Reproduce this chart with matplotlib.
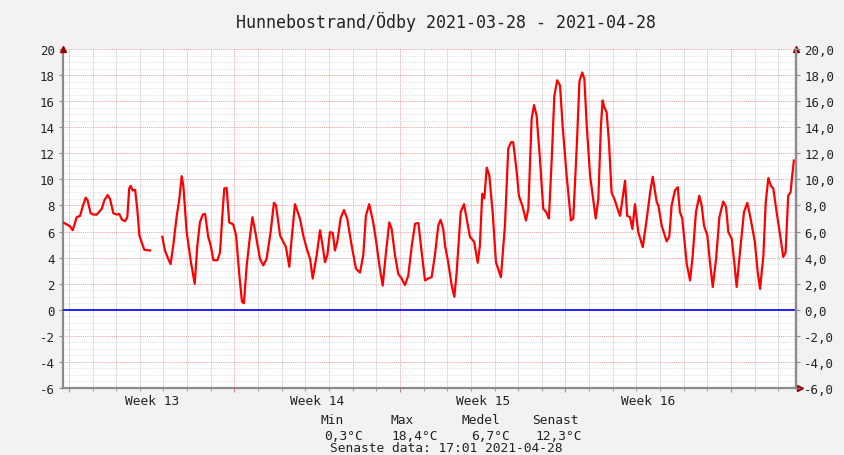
import datetime as dt
import numpy as np
import matplotlib
matplotlib.use("Agg")
import matplotlib.pyplot as plt
import matplotlib.dates as mdates
from matplotlib.ticker import FixedLocator, MultipleLocator, FuncFormatter

# ---------------- data ----------------
title = "Hunnebostrand/Ödby 2021-03-28 - 2021-04-28"
start = dt.datetime(2021, 3, 28, 18, 0)
end = dt.datetime(2021, 4, 28, 18, 0)

# time offsets (days from start) and temperatures (°C)
t_days = [
    0.01, 0.30, 0.41, 0.58, 0.72, 0.83, 0.96, 1.04, 1.17, 1.28, 1.43, 1.64, 1.75, 1.89, 1.99,
    2.13, 2.27, 2.38, 2.50, 2.62, 2.72, 2.80, 2.86, 2.95, 3.05, 3.14, 3.23, 3.35, 3.44, 3.68,
    3.90,
    4.20, 4.31, 4.45, 4.55, 4.66, 4.81, 4.92, 5.02, 5.09, 5.23, 5.41, 5.57, 5.68, 5.79, 5.91,
    6.01, 6.14, 6.25, 6.36, 6.53, 6.64, 6.75, 6.82, 6.92, 7.03, 7.20, 7.32, 7.46, 7.57, 7.65,
    7.77, 7.88, 8.01, 8.12, 8.33,
    8.47, 8.61, 8.78, 8.92, 9.01, 9.18, 9.32, 9.43, 9.57, 9.67, 9.81, 9.88, 10.02, 10.16, 10.33,
    10.45, 10.56, 10.73, 10.87, 10.98, 11.08, 11.18, 11.29, 11.41, 11.50, 11.60, 11.74, 11.88,
    12.02, 12.21, 12.39, 12.56, 12.70, 12.81, 12.95, 13.12, 13.24, 13.38, 13.52, 13.66, 13.80,
    13.90, 14.04, 14.18, 14.32, 14.46, 14.60, 14.75, 14.89, 15.03, 15.17, 15.31, 15.45, 15.59,
    15.73, 15.87, 15.97, 16.08,
    16.16, 16.29, 16.44, 16.55, 16.65, 16.82, 16.96, 17.07, 17.21, 17.39, 17.54, 17.63, 17.73,
    17.82, 17.92, 18.03, 18.17, 18.31, 18.52, 18.69, 18.83, 18.95, 19.04, 19.19, 19.28, 19.44,
    19.58, 19.68, 19.82, 19.92, 20.03, 20.17, 20.31, 20.43, 20.55, 20.67, 20.78, 20.90, 21.02,
    21.13, 21.30, 21.48, 21.58, 21.73, 21.84, 21.96, 22.05, 22.15, 22.29, 22.53, 22.64, 22.75,
    22.82, 22.89, 22.99, 23.09, 23.20, 23.34, 23.48,
    23.56, 23.77, 23.86, 23.98, 24.08, 24.19, 24.33, 24.52, 24.69, 24.83, 24.94, 25.11, 25.18,
    25.32, 25.53, 25.64, 25.74, 25.88, 26.00, 26.09, 26.19, 26.38, 26.52, 26.63, 26.77, 26.91,
    27.01, 27.11, 27.25, 27.36, 27.48, 27.62, 27.76, 27.92, 28.04, 28.14, 28.28, 28.39, 28.49,
    28.63, 28.80, 28.94, 29.08, 29.26, 29.38, 29.48, 29.62, 29.72, 29.83, 29.94, 30.04, 30.18,
    30.35, 30.46, 30.56, 30.67, 30.77, 30.84, 30.91,
]
temps = [
    6.7, 6.4, 6.1, 7.1, 7.2, 7.9, 8.6, 8.4, 7.4, 7.3, 7.3, 7.75, 8.4, 8.8, 8.5,
    7.4, 7.3, 7.35, 6.9, 6.8, 7.1, 9.3, 9.5, 9.15, 9.2, 7.75, 5.7, 5.05, 4.6, 4.55,
    np.nan,
    5.6, 4.55, 3.9, 3.5, 4.9, 7.2, 8.5, 10.25, 9.5, 5.95, 3.65, 2.0, 4.9, 6.7, 7.3,
    7.35, 5.6, 4.9, 3.8, 3.8, 4.4, 7.5, 9.3, 9.35, 6.7, 6.55, 5.7, 2.6, 0.6, 0.5,
    3.4, 5.2, 7.1, 6.1, 3.9,
    3.4, 3.9, 5.95, 8.2, 8.0, 5.7, 5.2, 4.8, 3.3, 5.45, 8.1, 7.75, 7.0, 5.7, 4.55,
    3.9, 2.4, 4.2, 6.1, 4.9, 3.65, 4.2, 5.95, 5.9, 4.55, 5.2, 7.0, 7.65,
    7.0, 4.9, 3.15, 2.85, 4.2, 7.2, 8.1, 6.7, 5.3, 3.4, 1.85, 4.4, 6.7,
    6.2, 4.2, 2.75, 2.4, 1.9, 2.6, 4.9, 6.6, 6.65, 4.4, 2.25, 2.4, 2.5,
    4.2, 6.45, 6.9, 6.2,
    4.9, 3.65, 1.85, 1.0, 2.9, 7.5, 8.1, 7.0, 5.6, 5.2, 3.6, 4.9, 8.9,
    8.55, 10.9, 10.3, 7.5, 3.65, 2.5, 6.45, 12.35, 12.85, 12.85, 10.55, 8.75, 7.9,
    6.85, 7.75, 14.65, 15.7, 14.9, 11.6, 7.75, 7.5, 7.0, 11.6, 16.4, 17.6, 17.2,
    14.1, 10.3, 6.85, 7.0, 12.6, 17.5, 18.2, 17.7, 14.1, 10.3, 7.0, 8.5, 14.1,
    16.05, 15.55, 15.15, 12.85, 9.0, 8.4, 7.6,
    7.2, 9.9, 7.2, 7.1, 6.2, 8.1, 5.95, 4.8, 7.0, 9.0, 10.2, 8.25, 8.0,
    6.45, 5.25, 5.6, 8.0, 9.15, 9.4, 7.5, 7.0, 3.5, 2.25, 4.15, 7.5, 8.75,
    8.0, 6.45, 5.7, 3.65, 1.75, 3.9, 7.1, 8.3, 7.9, 5.95, 5.45, 3.65, 1.75,
    4.4, 7.5, 8.2, 7.0, 5.2, 2.9, 1.6, 4.15, 8.25, 10.1, 9.5, 9.3, 7.5,
    5.45, 4.05, 4.4, 8.75, 9.0, 10.3, 11.45,
]

week_labels = ["Week 13", "Week 14", "Week 15", "Week 16"]
week_centers = [dt.datetime(2021, 4, 1, 12), dt.datetime(2021, 4, 8, 12),
                dt.datetime(2021, 4, 15, 12), dt.datetime(2021, 4, 22, 12)]

stat_names = ["Min", "Max", "Medel", "Senast"]
stat_values = ["0,3°C", "18,4°C", "6,7°C", "12,3°C"]
last_data = "Senaste data: 17:01 2021-04-28"

y_ticks = list(range(-6, 21, 2))

# ---------------- plot ----------------
W, H = 845, 456
bg = "#f2f2f2"
mono = "DejaVu Sans Mono"
plt.rcParams["font.family"] = mono

fig = plt.figure(figsize=(W / 100, H / 100), dpi=100, facecolor=bg)
L, R, T, B = 63, 796, 50, 389
ax = fig.add_axes([L / W, 1 - B / H, (R - L) / W, (B - T) / H])
ax.set_facecolor("white")

times = [start + dt.timedelta(days=d) for d in t_days]

ax.set_xlim(start, end)
ax.set_ylim(-6, 20)

# grid
ax.xaxis.set_major_locator(mdates.WeekdayLocator(byweekday=mdates.MO))
ax.xaxis.set_minor_locator(mdates.DayLocator())
ax.xaxis.set_major_formatter(FuncFormatter(lambda v, p: ""))
ax.yaxis.set_major_locator(FixedLocator(y_ticks))
ax.yaxis.set_minor_locator(MultipleLocator(0.5))
ax.grid(which="minor", axis="y", color="#dcdcdc", lw=0.6, ls=(0, (1, 1)))
ax.grid(which="minor", axis="x", color="#e0e0e0", lw=0.7, ls="-")
ax.grid(which="major", axis="both", color="#f0a0a0", lw=0.7, ls=(0, (1, 1)))
ax.set_axisbelow(True)

ax.axhline(0, color="#0000ff", lw=1.2, zorder=3)
ax.plot(times, temps, color="#ff0000", lw=1.6, zorder=4)

# spines
ax.spines["top"].set_visible(False)
for s in ["left", "right", "bottom"]:
    ax.spines[s].set_color("#8c8c8c")
    ax.spines[s].set_linewidth(1.6)

ax.tick_params(axis="y", which="major", length=3, color="#8c8c8c", labelsize=9,
               labelcolor="#222222", pad=3)
ax.tick_params(axis="y", which="minor", length=0)
ax.tick_params(axis="x", which="major", length=3, color="#d08080")
ax.tick_params(axis="x", which="minor", length=2, color="#8c8c8c")
ax.set_yticklabels([str(v) for v in y_ticks])

axr = ax.twinx()
axr.set_ylim(-6, 20)
axr.yaxis.set_major_locator(FixedLocator(y_ticks))
axr.set_yticklabels([f"{v:.1f}".replace(".", ",") for v in y_ticks])
axr.tick_params(axis="y", length=3, color="#8c8c8c", labelsize=9, labelcolor="#222222", pad=3)
for s in ["top", "left", "bottom"]:
    axr.spines[s].set_visible(False)
axr.spines["right"].set_color("#8c8c8c")
axr.spines["right"].set_linewidth(1.6)

# arrows
arrow_c = "#990000"
ax.plot([0], [1.0], marker="^", ms=5, color=arrow_c, transform=ax.transAxes, clip_on=False, zorder=6)
ax.plot([1], [1.0], marker="^", ms=5, color=arrow_c, transform=ax.transAxes, clip_on=False, zorder=6)
ax.plot([1.006], [0.0], marker=">", ms=5, color=arrow_c, transform=ax.transAxes, clip_on=False, zorder=6)

# week labels
for lab, c in zip(week_labels, week_centers):
    ax.text(mdates.date2num(c), -6.45, lab, ha="center", va="top", fontsize=9.3,
            color="#222222", clip_on=False)

# title
fig.text(446 / W, 1 - 22 / H, title, ha="center", va="center", fontsize=12, color="#222222")

# stats
name_x = [321, 391, 462, 532]
val_x = [324, 391, 471, 535]
for n, x in zip(stat_names, name_x):
    fig.text(x / W, 1 - 421 / H, n, ha="left", va="center", fontsize=9.3, color="#222222")
for v, x in zip(stat_values, val_x):
    fig.text(x / W, 1 - 437 / H, v, ha="left", va="center", fontsize=9.3, color="#222222")
fig.text(446 / W, 1 - 449 / H, last_data, ha="center", va="center", fontsize=9.3, color="#222222")

fig.savefig("out.png", dpi=100, facecolor=bg)
